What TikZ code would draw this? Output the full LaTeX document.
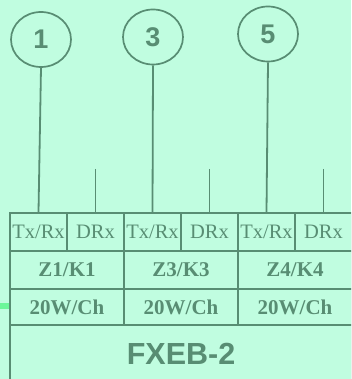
\documentclass[tikz,border=0pt]{standalone}
\usepackage{fontspec}
\setmainfont{Liberation Serif}
\setsansfont{Liberation Sans}
\usetikzlibrary{shapes.geometric}
\definecolor{bgc}{HTML}{C0FDE0}
\definecolor{lc}{HTML}{588D73}
\definecolor{gbar}{HTML}{6CF79A}
\tikzset{
  cell/.style={draw=lc, line width=2pt, rectangle, inner sep=0pt, text=lc},
  txcell/.style={cell, minimum width=57pt, minimum height=38pt, font=\fontsize{20.5}{20.5}\selectfont},
  zcell/.style={cell, minimum width=114pt, minimum height=38pt, font=\bfseries\fontsize{21}{21}\selectfont},
  wcell/.style={cell, minimum width=114pt, minimum height=36pt, font=\bfseries\fontsize{21}{21}\selectfont},
  numc/.style={draw=lc, line width=1.7pt, ellipse, minimum width=60pt, minimum height=55pt, inner sep=0pt, text=lc, font=\sffamily\bfseries\fontsize{27}{27}\selectfont},
  conn/.style={draw=lc, line width=1.8pt}
}
\begin{document}
\begin{tikzpicture}[x=1pt,y=-1pt]
\useasboundingbox (0,0) rectangle (351,379);
\fill[bgc] (0,0) rectangle (351,379);
\clip (0,0) rectangle (351,379);
% bottom title cell
\node[cell, minimum width=342pt, minimum height=57pt, font=\sffamily\bfseries\fontsize{30.5}{30.5}\selectfont] (fx) at (181,353.5) {FXEB-2};
% row 3
\node[wcell] (w1) at (67,307) {20W/Ch};
\node[wcell] (w2) at (181,307) {20W/Ch};
\node[wcell] (w3) at (295,307) {20W/Ch};
% row 2
\node[zcell] (z1) at (67,270) {Z1/K1};
\node[zcell] (z2) at (181,270) {Z3/K3};
\node[zcell] (z3) at (295,270) {Z4/K4};
% row 1
\node[txcell] (t1) at (38.5,232) {Tx/Rx};
\node[txcell] (d1) at (95.5,232) {DRx};
\node[txcell] (t2) at (152.5,232) {Tx/Rx};
\node[txcell] (d2) at (209.5,232) {DRx};
\node[txcell] (t3) at (266.5,232) {Tx/Rx};
\node[txcell] (d3) at (323.5,232) {DRx};
% circles
\node[numc] (c1) at (41,39.5) {1};
\node[numc] (c3) at (153,37) {3};
\node[numc] (c5) at (268,34) {5};
% connectors
\draw[conn] (c1.south) -- (t1.north);
\draw[conn] (c3.south) -- (t2.north);
\draw[conn] (c5.south) -- (t3.north);
\coordinate (s1) at (95.5,169);
\coordinate (s2) at (209.5,169);
\coordinate (s3) at (323.5,169);
\draw[conn] (s1) -- (d1.north);
\draw[conn] (s2) -- (d2.north);
\draw[conn] (s3) -- (d3.north);
% green marker
\fill[gbar] (0,303) rectangle (9,309);
\end{tikzpicture}
\end{document}
